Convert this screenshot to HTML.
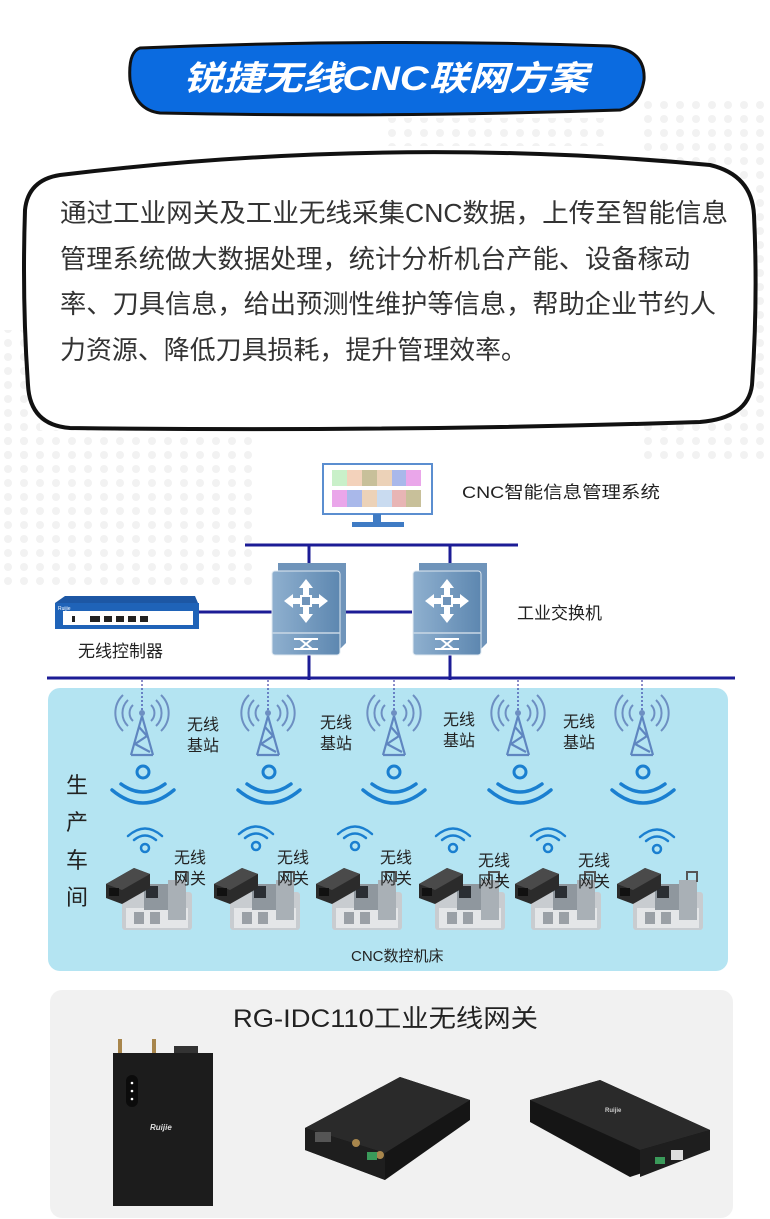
<!DOCTYPE html>
<html><head><meta charset="utf-8"><style>
html,body{margin:0;padding:0;background:#fff;}
svg{display:block;}
text{font-family:"Liberation Sans","Noto Sans CJK SC",sans-serif;}
</style></head><body>
<svg width="770" height="1219" viewBox="0 0 770 1219" xmlns="http://www.w3.org/2000/svg">
<defs>
<pattern id="dots" width="16" height="14" patternUnits="userSpaceOnUse"><circle cx="8" cy="7" r="4" fill="#f2f2f2"/></pattern>
<linearGradient id="sw" x1="0" x2="1"><stop offset="0" stop-color="#8fb0cf"/><stop offset="1" stop-color="#5d87b0"/></linearGradient>
<g id="tower">
<path d="M-14,-22 a18,18 0 0 0 0,26 M14,-22 a18,18 0 0 1 0,26 M-9,-17 a11,11 0 0 0 0,16 M9,-17 a11,11 0 0 1 0,16 M-19,-27 a25,25 0 0 0 0,36 M19,-27 a25,25 0 0 1 0,36" stroke="#6d8fc2" stroke-width="2" fill="none"/>
<circle cx="0" cy="-9" r="3" fill="#6d8fc2"/>
<path d="M0,-6 L-11,33 M0,-6 L11,33 M-3,5 L5,14 L-7,22 L8,30 M-11,33 H11" stroke="#5f86c0" stroke-width="2.2" fill="none"/>
</g>
<g id="wbig">
<circle cx="0" cy="0" r="6" stroke="#1a7fd0" stroke-width="3" fill="none"/>
<path d="M-22,12 Q0,28 22,12 M-31,18 Q0,44 31,18" stroke="#1a7fd0" stroke-width="3.5" fill="none" stroke-linecap="round"/>
</g>
<g id="wsm">
<circle cx="0" cy="0" r="4" stroke="#1a7fd0" stroke-width="2.5" fill="none"/>
<path d="M-11,-8 Q0,-17 11,-8 M-17,-12 Q0,-27 17,-12" stroke="#1a7fd0" stroke-width="2.5" fill="none" stroke-linecap="round"/>
</g>
<g id="unit">
<rect x="16" y="22" width="70" height="38" rx="3" fill="#c8ccd0"/>
<rect x="20" y="38" width="62" height="20" fill="#e4e6e8"/>
<rect x="28" y="42" width="10" height="12" fill="#9aa0a6"/><rect x="44" y="42" width="10" height="12" fill="#9aa0a6"/>
<rect x="38" y="14" width="30" height="26" fill="#8f979e"/>
<rect x="40" y="16" width="12" height="12" fill="#2a2e33"/>
<rect x="62" y="10" width="18" height="40" fill="#a9b0b6"/>
<path d="M70,10 V2 H80 V12" stroke="#555" stroke-width="2" fill="none"/>
<polygon points="0,14 28,-2 44,4 44,18 16,34 0,28" fill="#2b2b2b"/>
<polygon points="0,14 28,-2 44,4 16,20" fill="#4a4a4a"/>
<rect x="3" y="18" width="10" height="8" fill="#111"/>
</g>
<g id="sw1">
<path d="M6,0 H74 V80 L68,86 H6 Z" fill="#6f94ba"/>
<rect x="0" y="8" width="68" height="84" rx="3" fill="url(#sw)" stroke="#dfe8f0" stroke-width="1"/>
<line x1="0" y1="70" x2="68" y2="70" stroke="#c9d8e6" stroke-width="1.5"/>
<path d="M34,16 l-7,9 h4 v26 h-4 l7,9 l7,-9 h-4 v-26 h4 z M12,38 l9,-7 v4 h26 v-4 l9,7 l-9,7 v-4 h-26 v4 z" fill="#fff"/>
<rect x="29" y="33" width="10" height="10" fill="#6f94ba" stroke="#fff" stroke-width="2"/>
<path d="M22,76 h24 M22,86 h24 M28,76 l12,10 M28,86 l12,-10" stroke="#fff" stroke-width="2" fill="none"/>
</g>
</defs>

<!-- dot backgrounds -->
<rect x="640" y="100" width="130" height="360" fill="url(#dots)"/>
<rect x="0" y="330" width="40" height="130" fill="url(#dots)"/>
<rect x="0" y="430" width="260" height="160" fill="url(#dots)"/>
<rect x="380" y="118" width="230" height="28" fill="url(#dots)"/>

<!-- title banner -->
<path d="M140,48 Q380,38 610,46 Q646,50 644,80 Q640,105 620,110 Q380,118 160,113 Q135,110 130,80 Q128,52 140,48 Z" fill="#0b6be0" stroke="#111" stroke-width="3"/>
<text x="183" y="90" font-size="34" font-weight="bold" font-style="italic" fill="#fff" textLength="405" lengthAdjust="spacingAndGlyphs">锐捷无线CNC联网方案</text>

<!-- speech bubble -->
<path d="M60,175 Q390,135 710,165 Q752,175 754,215 Q758,300 752,385 Q748,418 700,422 Q390,432 70,428 Q30,425 28,385 Q22,300 25,210 Q28,180 60,175 Z" fill="#fff" stroke="#111" stroke-width="4"/>
<g font-size="26" fill="#333">
<text x="60" y="222" textLength="668" lengthAdjust="spacingAndGlyphs">通过工业网关及工业无线采集CNC数据，上传至智能信息</text>
<text x="60" y="268" textLength="630" lengthAdjust="spacingAndGlyphs">管理系统做大数据处理，统计分析机台产能、设备稼动</text>
<text x="60" y="313" textLength="656" lengthAdjust="spacingAndGlyphs">率、刀具信息，给出预测性维护等信息，帮助企业节约人</text>
<text x="60" y="359" textLength="467" lengthAdjust="spacingAndGlyphs">力资源、降低刀具损耗，提升管理效率。</text>
</g>

<!-- monitor -->
<rect x="323" y="464" width="109" height="50" fill="#fff" stroke="#5b8ed0" stroke-width="2"/>
<g>
<rect x="332" y="470" width="15" height="16" fill="#c9f0c9"/><rect x="347" y="470" width="15" height="16" fill="#f3d2bb"/><rect x="362" y="470" width="15" height="16" fill="#c8c09a"/><rect x="377" y="470" width="15" height="16" fill="#ecd2b8"/><rect x="392" y="470" width="14" height="16" fill="#a9b8ea"/><rect x="406" y="470" width="15" height="16" fill="#eaa6ea"/>
<rect x="332" y="490" width="15" height="17" fill="#eaa6ea"/><rect x="347" y="490" width="15" height="17" fill="#a9b8ea"/><rect x="362" y="490" width="15" height="17" fill="#ecd2b8"/><rect x="377" y="490" width="15" height="17" fill="#c9dbf0"/><rect x="392" y="490" width="14" height="17" fill="#e8b5b5"/><rect x="406" y="490" width="15" height="17" fill="#c8c09a"/>
</g>
<rect x="373" y="514" width="8" height="10" fill="#3f7bc4"/>
<rect x="352" y="522" width="52" height="5" fill="#3f7bc4"/>
<text x="462" y="498" font-size="17" fill="#222" textLength="198" lengthAdjust="spacingAndGlyphs">CNC智能信息管理系统</text>

<!-- buses -->
<line x1="245" y1="545" x2="518" y2="545" stroke="#1c1c96" stroke-width="3"/>
<line x1="309" y1="545" x2="309" y2="680" stroke="#1c1c96" stroke-width="3"/>
<line x1="450" y1="545" x2="450" y2="680" stroke="#1c1c96" stroke-width="3"/>
<line x1="196" y1="612" x2="412" y2="612" stroke="#1c1c96" stroke-width="3"/>
<line x1="47" y1="678" x2="735" y2="678" stroke="#1c1c96" stroke-width="3"/>
<use href="#sw1" x="272" y="563"/>
<use href="#sw1" x="413" y="563"/>
<text x="517" y="619" font-size="17" fill="#222">工业交换机</text>

<!-- controller -->
<polygon points="55,603 65,596 195,596 198,603" fill="#1d57a4"/>
<rect x="55" y="603" width="144" height="26" fill="#1f63b8"/>
<rect x="63" y="611" width="130" height="14" fill="#fff"/>
<text x="58" y="610" font-size="5" fill="#fff">Ruijie</text>
<g fill="#222"><rect x="72" y="616" width="3" height="6"/><rect x="90" y="616" width="10" height="6"/><rect x="104" y="616" width="8" height="6"/><rect x="116" y="616" width="8" height="6"/><rect x="128" y="616" width="8" height="6"/><rect x="140" y="616" width="8" height="6"/></g>
<text x="78" y="657" font-size="17" fill="#222">无线控制器</text>

<!-- workshop panel -->
<rect x="48" y="688" width="680" height="283" rx="12" fill="#b4e4f2"/>
<g stroke="#1c1c96" stroke-width="1" stroke-dasharray="2,2">
<line x1="142" y1="680" x2="142" y2="720"/><line x1="268" y1="680" x2="268" y2="720"/><line x1="394" y1="680" x2="394" y2="720"/><line x1="518" y1="680" x2="518" y2="720"/><line x1="642" y1="680" x2="642" y2="720"/>
</g>
<use href="#tower" x="142" y="722"/><use href="#tower" x="268" y="722"/><use href="#tower" x="394" y="722"/><use href="#tower" x="518" y="722"/><use href="#tower" x="642" y="722"/>
<use href="#wbig" x="143" y="772"/><use href="#wbig" x="269" y="772"/><use href="#wbig" x="394" y="772"/><use href="#wbig" x="520" y="772"/><use href="#wbig" x="643" y="772"/>
<g font-size="16" fill="#222">
<text x="187" y="730">无线</text><text x="187" y="751">基站</text>
<text x="320" y="728">无线</text><text x="320" y="749">基站</text>
<text x="443" y="725">无线</text><text x="443" y="746">基站</text>
<text x="563" y="727">无线</text><text x="563" y="748">基站</text>
</g>
<g font-size="22" fill="#222">
<text x="66" y="793">生</text><text x="66" y="830">产</text><text x="66" y="868">车</text><text x="66" y="905">间</text>
</g>
<use href="#wsm" x="145" y="848"/><use href="#wsm" x="256" y="846"/><use href="#wsm" x="355" y="846"/><use href="#wsm" x="453" y="848"/><use href="#wsm" x="548" y="848"/><use href="#wsm" x="657" y="849"/>
<use href="#unit" x="106" y="870"/><use href="#unit" x="214" y="870"/><use href="#unit" x="316" y="870"/><use href="#unit" x="419" y="870"/><use href="#unit" x="515" y="870"/><use href="#unit" x="617" y="870"/>
<g font-size="16" fill="#222">
<text x="174" y="863">无线</text><text x="174" y="884">网关</text>
<text x="277" y="863">无线</text><text x="277" y="884">网关</text>
<text x="380" y="863">无线</text><text x="380" y="884">网关</text>
<text x="478" y="866">无线</text><text x="478" y="887">网关</text>
<text x="578" y="866">无线</text><text x="578" y="887">网关</text>
</g>
<text x="351" y="961" font-size="15" fill="#222">CNC数控机床</text>

<!-- product panel -->
<rect x="50" y="990" width="683" height="228" rx="12" fill="#f1f1f1"/>
<text x="233" y="1027" font-size="25" fill="#222" textLength="305" lengthAdjust="spacingAndGlyphs">RG-IDC110工业无线网关</text>
<!-- device 1 -->
<rect x="118" y="1039" width="4" height="14" fill="#a8864c"/><rect x="152" y="1039" width="4" height="14" fill="#a8864c"/><rect x="174" y="1046" width="24" height="8" fill="#333"/>
<rect x="113" y="1053" width="100" height="153" fill="#1c1c1c"/>
<rect x="126" y="1075" width="12" height="32" rx="6" fill="#0b0b0b"/>
<circle cx="132" cy="1083" r="1.3" fill="#fff"/><circle cx="132" cy="1091" r="1.3" fill="#fff"/><circle cx="132" cy="1099" r="1.3" fill="#fff"/>
<text x="150" y="1130" font-size="8" font-style="italic" font-weight="bold" fill="#ddd">Ruijie</text>
<!-- device 2 -->
<polygon points="305,1128 400,1077 470,1100 470,1120 385,1180 305,1150" fill="#151515"/>
<polygon points="305,1128 400,1077 470,1100 385,1153" fill="#2a2a2a"/>
<polygon points="305,1128 385,1153 385,1180 305,1150" fill="#1e1e1e"/>
<rect x="315" y="1132" width="16" height="10" fill="#555"/>
<circle cx="356" cy="1143" r="4" fill="#a8864c"/><circle cx="380" cy="1155" r="4" fill="#a8864c"/>
<rect x="367" y="1152" width="10" height="8" fill="#3a9a5a"/>
<!-- device 3 -->
<polygon points="530,1100 600,1080 710,1130 710,1150 630,1177 530,1122" fill="#151515"/>
<polygon points="530,1100 600,1080 710,1130 640,1150" fill="#2a2a2a"/>
<polygon points="640,1150 710,1130 710,1150 640,1177" fill="#1e1e1e"/>
<rect x="671" y="1150" width="12" height="10" fill="#ddd"/>
<rect x="655" y="1157" width="10" height="7" fill="#3a9a5a"/>
<text x="605" y="1112" font-size="6" font-weight="bold" fill="#ccc">Ruijie</text>
</svg>
</body></html>
